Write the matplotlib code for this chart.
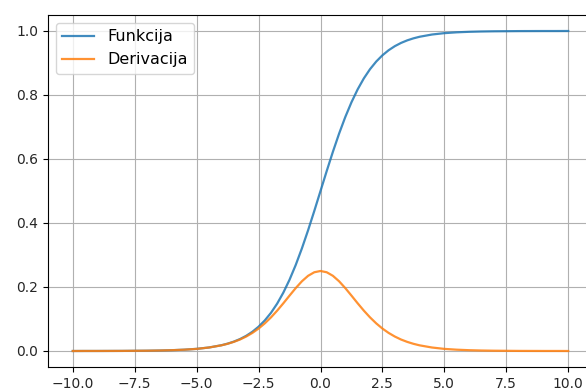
import matplotlib
matplotlib.use("Agg")
import matplotlib.pyplot as plt

x = [-10.0, -9.5, -9.0, -8.5, -8.0, -7.5, -7.0, -6.5, -6.0, -5.5, -5.0, -4.5,
     -4.0, -3.75, -3.5, -3.25, -3.0, -2.75, -2.5, -2.25, -2.0, -1.75, -1.5, -1.25,
     -1.0, -0.75, -0.5, -0.25, 0.0, 0.25, 0.5, 0.75, 1.0, 1.25, 1.5, 1.75,
     2.0, 2.25, 2.5, 2.75, 3.0, 3.25, 3.5, 3.75, 4.0, 4.5, 5.0, 5.5,
     6.0, 6.5, 7.0, 7.5, 8.0, 8.5, 9.0, 9.5, 10.0]

funkcija_left = [0.0000, 0.0001, 0.0001, 0.0002, 0.0003, 0.0006, 0.0009, 0.0015, 0.0025, 0.0041, 0.0067, 0.0110,
                 0.0180, 0.0230, 0.0293, 0.0373, 0.0474, 0.0601, 0.0759, 0.0954, 0.1192, 0.1480, 0.1824, 0.2227,
                 0.2689, 0.3208, 0.3775, 0.4378]
funkcija = funkcija_left + [0.5] + [round(1 - v, 4) for v in reversed(funkcija_left)]

derivacija_left = [0.0000, 0.0001, 0.0001, 0.0002, 0.0003, 0.0006, 0.0009, 0.0015, 0.0025, 0.0041, 0.0066, 0.0109,
                   0.0177, 0.0225, 0.0285, 0.0359, 0.0452, 0.0565, 0.0701, 0.0863, 0.1050, 0.1261, 0.1491, 0.1731,
                   0.1966, 0.2179, 0.2350, 0.2461]
derivacija = derivacija_left + [0.25] + list(reversed(derivacija_left))

labels = ["Funkcija", "Derivacija"]

fig = plt.figure(figsize=(5.86, 3.92), dpi=100)
ax = fig.add_axes([48 / 586, 25 / 392, 545 / 586, 352 / 392])
ax.plot(x, funkcija, label=labels[0], color="#1f77b4", linewidth=1.6, alpha=0.85)
ax.plot(x, derivacija, label=labels[1], color="#ff7f0e", linewidth=1.6, alpha=0.85)
ax.grid(True)
ax.legend(loc="upper left", fontsize=11.5)
ax.set_xticks([-10.0, -7.5, -5.0, -2.5, 0.0, 2.5, 5.0, 7.5, 10.0])
ax.set_yticks([0.0, 0.2, 0.4, 0.6, 0.8, 1.0])
ax.tick_params(labelcolor="#262626")
fig.savefig("out.png", dpi=100)
